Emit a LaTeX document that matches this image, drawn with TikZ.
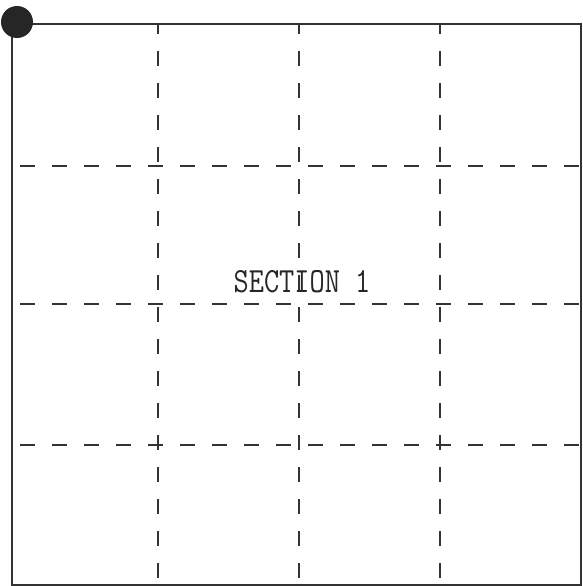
\documentclass[tikz,border=0pt]{standalone}
\begin{document}
\begin{tikzpicture}[x=1pt,y=-1pt,
  frame/.style={draw=black!80,line width=2.6pt},
  gridline/.style={draw=black!80,line width=1.3pt,dash pattern=on 15pt off 17pt},
  label/.style={font=\ttfamily\fontsize{29.5}{29.5}\selectfont,text=black!85,yscale=1.2,inner sep=0pt}]
\useasboundingbox (0,0) rectangle (583,586);
\coordinate (tl) at (12,24);
\coordinate (br) at (581,585);
\draw[frame] (tl) rectangle (br);
\foreach \x in {158,299,440} {
  \coordinate (vt\x) at (\x,24);
  \coordinate (vb\x) at (\x,585);
  \draw[gridline,dash phase=5pt] (vt\x) -- (vb\x);
}
\foreach \y in {166,304,445} {
  \coordinate (hl\y) at (12,\y);
  \coordinate (hr\y) at (581,\y);
  \draw[gridline,dash phase=-8pt] (hl\y) -- (hr\y);
}
\node[label] (sec) at (302,282) {SECTION 1};
\fill[black!85] (17,22) circle (16);
\end{tikzpicture}
\end{document}
